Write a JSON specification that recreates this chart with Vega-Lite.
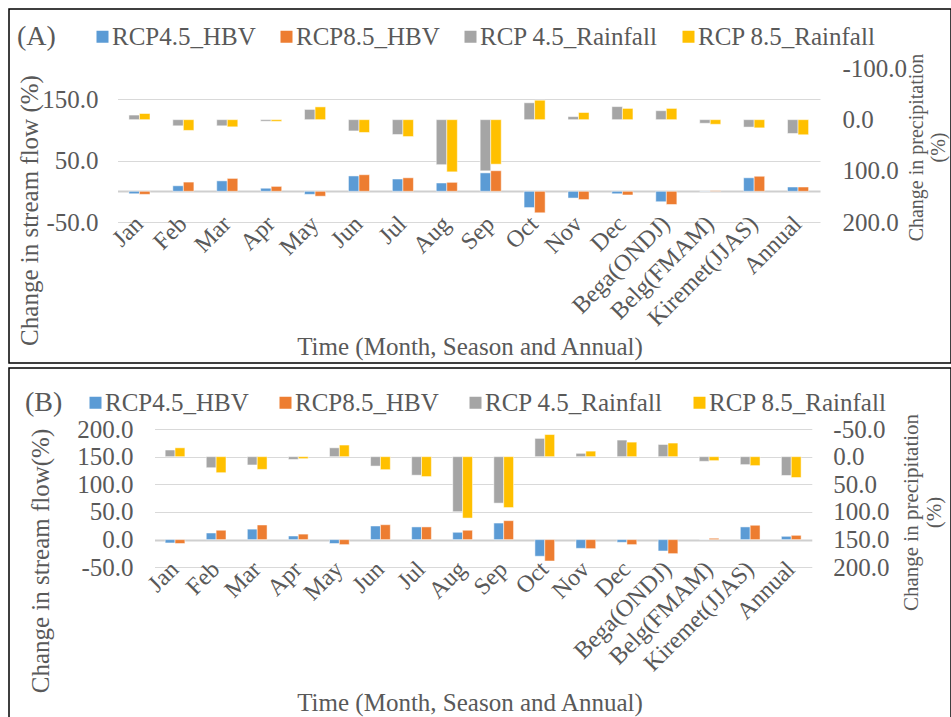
{
  "$schema": "https://vega.github.io/schema/vega-lite/v6.json",
  "padding": {"left": 8, "top": 8, "right": 0, "bottom": 0},
  "background": "white",
  "spacing": 3,
  "config": {
    "font": "Liberation Serif",
    "view": {"stroke": "#000000", "strokeWidth": 1.5},
    "axis": {"labelFont": "Liberation Serif", "titleFont": "Liberation Serif", "labelColor": "#595959", "titleColor": "#595959", "titleFontWeight": "normal", "domain": false, "ticks": false, "gridColor": "#d9d9d9", "labelOverlap": false, "labelLimit": 0, "titleLimit": 0},
    "legend": {"labelFont": "Liberation Serif", "titleFont": "Liberation Serif", "labelColor": "#595959", "titleColor": "#595959", "titleFontWeight": "normal", "labelLimit": 0, "titleLimit": 0, "padding": 0}
  },
  "resolve": {"scale": {"color": "independent", "xOffset": "independent"}},
  "vconcat": [
    {
      "width": 942,
      "height": 354,
      "data": {"values": [
        {"c": "Jan", "k": "HBV", "r": "4.5", "s": "RCP4.5_HBV", "v": -4},
        {"c": "Jan", "k": "HBV", "r": "8.5", "s": "RCP8.5_HBV", "v": -5},
        {"c": "Jan", "k": "Rain", "r": "4.5", "s": "RCP 4.5_Rainfall", "v": -9},
        {"c": "Jan", "k": "Rain", "r": "8.5", "s": "RCP 8.5_Rainfall", "v": -12},
        {"c": "Feb", "k": "HBV", "r": "4.5", "s": "RCP4.5_HBV", "v": 9},
        {"c": "Feb", "k": "HBV", "r": "8.5", "s": "RCP8.5_HBV", "v": 15},
        {"c": "Feb", "k": "Rain", "r": "4.5", "s": "RCP 4.5_Rainfall", "v": 12},
        {"c": "Feb", "k": "Rain", "r": "8.5", "s": "RCP 8.5_Rainfall", "v": 21},
        {"c": "Mar", "k": "HBV", "r": "4.5", "s": "RCP4.5_HBV", "v": 17},
        {"c": "Mar", "k": "HBV", "r": "8.5", "s": "RCP8.5_HBV", "v": 21},
        {"c": "Mar", "k": "Rain", "r": "4.5", "s": "RCP 4.5_Rainfall", "v": 12},
        {"c": "Mar", "k": "Rain", "r": "8.5", "s": "RCP 8.5_Rainfall", "v": 14},
        {"c": "Apr", "k": "HBV", "r": "4.5", "s": "RCP4.5_HBV", "v": 5},
        {"c": "Apr", "k": "HBV", "r": "8.5", "s": "RCP8.5_HBV", "v": 8},
        {"c": "Apr", "k": "Rain", "r": "4.5", "s": "RCP 4.5_Rainfall", "v": 3},
        {"c": "Apr", "k": "Rain", "r": "8.5", "s": "RCP 8.5_Rainfall", "v": 3.3},
        {"c": "May", "k": "HBV", "r": "4.5", "s": "RCP4.5_HBV", "v": -5},
        {"c": "May", "k": "HBV", "r": "8.5", "s": "RCP8.5_HBV", "v": -8},
        {"c": "May", "k": "Rain", "r": "4.5", "s": "RCP 4.5_Rainfall", "v": -20},
        {"c": "May", "k": "Rain", "r": "8.5", "s": "RCP 8.5_Rainfall", "v": -25},
        {"c": "Jun", "k": "HBV", "r": "4.5", "s": "RCP4.5_HBV", "v": 25},
        {"c": "Jun", "k": "HBV", "r": "8.5", "s": "RCP8.5_HBV", "v": 27},
        {"c": "Jun", "k": "Rain", "r": "4.5", "s": "RCP 4.5_Rainfall", "v": 22},
        {"c": "Jun", "k": "Rain", "r": "8.5", "s": "RCP 8.5_Rainfall", "v": 25},
        {"c": "Jul", "k": "HBV", "r": "4.5", "s": "RCP4.5_HBV", "v": 20},
        {"c": "Jul", "k": "HBV", "r": "8.5", "s": "RCP8.5_HBV", "v": 22},
        {"c": "Jul", "k": "Rain", "r": "4.5", "s": "RCP 4.5_Rainfall", "v": 29},
        {"c": "Jul", "k": "Rain", "r": "8.5", "s": "RCP 8.5_Rainfall", "v": 33},
        {"c": "Aug", "k": "HBV", "r": "4.5", "s": "RCP4.5_HBV", "v": 13.5},
        {"c": "Aug", "k": "HBV", "r": "8.5", "s": "RCP8.5_HBV", "v": 14.6},
        {"c": "Aug", "k": "Rain", "r": "4.5", "s": "RCP 4.5_Rainfall", "v": 88},
        {"c": "Aug", "k": "Rain", "r": "8.5", "s": "RCP 8.5_Rainfall", "v": 102},
        {"c": "Sep", "k": "HBV", "r": "4.5", "s": "RCP4.5_HBV", "v": 30},
        {"c": "Sep", "k": "HBV", "r": "8.5", "s": "RCP8.5_HBV", "v": 33.5},
        {"c": "Sep", "k": "Rain", "r": "4.5", "s": "RCP 4.5_Rainfall", "v": 100},
        {"c": "Sep", "k": "Rain", "r": "8.5", "s": "RCP 8.5_Rainfall", "v": 87},
        {"c": "Oct", "k": "HBV", "r": "4.5", "s": "RCP4.5_HBV", "v": -26.5},
        {"c": "Oct", "k": "HBV", "r": "8.5", "s": "RCP8.5_HBV", "v": -35},
        {"c": "Oct", "k": "Rain", "r": "4.5", "s": "RCP 4.5_Rainfall", "v": -33},
        {"c": "Oct", "k": "Rain", "r": "8.5", "s": "RCP 8.5_Rainfall", "v": -38},
        {"c": "Nov", "k": "HBV", "r": "4.5", "s": "RCP4.5_HBV", "v": -11},
        {"c": "Nov", "k": "HBV", "r": "8.5", "s": "RCP8.5_HBV", "v": -13.5},
        {"c": "Nov", "k": "Rain", "r": "4.5", "s": "RCP 4.5_Rainfall", "v": -6},
        {"c": "Nov", "k": "Rain", "r": "8.5", "s": "RCP 8.5_Rainfall", "v": -14},
        {"c": "Dec", "k": "HBV", "r": "4.5", "s": "RCP4.5_HBV", "v": -4},
        {"c": "Dec", "k": "HBV", "r": "8.5", "s": "RCP8.5_HBV", "v": -6},
        {"c": "Dec", "k": "Rain", "r": "4.5", "s": "RCP 4.5_Rainfall", "v": -25.5},
        {"c": "Dec", "k": "Rain", "r": "8.5", "s": "RCP 8.5_Rainfall", "v": -22},
        {"c": "Bega(ONDJ)", "k": "HBV", "r": "4.5", "s": "RCP4.5_HBV", "v": -17},
        {"c": "Bega(ONDJ)", "k": "HBV", "r": "8.5", "s": "RCP8.5_HBV", "v": -21.5},
        {"c": "Bega(ONDJ)", "k": "Rain", "r": "4.5", "s": "RCP 4.5_Rainfall", "v": -17.5},
        {"c": "Bega(ONDJ)", "k": "Rain", "r": "8.5", "s": "RCP 8.5_Rainfall", "v": -22},
        {"c": "Belg(FMAM)", "k": "HBV", "r": "4.5", "s": "RCP4.5_HBV", "v": 0.3},
        {"c": "Belg(FMAM)", "k": "HBV", "r": "8.5", "s": "RCP8.5_HBV", "v": 1},
        {"c": "Belg(FMAM)", "k": "Rain", "r": "4.5", "s": "RCP 4.5_Rainfall", "v": 7},
        {"c": "Belg(FMAM)", "k": "Rain", "r": "8.5", "s": "RCP 8.5_Rainfall", "v": 9},
        {"c": "Kiremet(JJAS)", "k": "HBV", "r": "4.5", "s": "RCP4.5_HBV", "v": 22},
        {"c": "Kiremet(JJAS)", "k": "HBV", "r": "8.5", "s": "RCP8.5_HBV", "v": 24.5},
        {"c": "Kiremet(JJAS)", "k": "Rain", "r": "4.5", "s": "RCP 4.5_Rainfall", "v": 14.5},
        {"c": "Kiremet(JJAS)", "k": "Rain", "r": "8.5", "s": "RCP 8.5_Rainfall", "v": 16},
        {"c": "Annual", "k": "HBV", "r": "4.5", "s": "RCP4.5_HBV", "v": 7},
        {"c": "Annual", "k": "HBV", "r": "8.5", "s": "RCP8.5_HBV", "v": 7},
        {"c": "Annual", "k": "Rain", "r": "4.5", "s": "RCP 4.5_Rainfall", "v": 27},
        {"c": "Annual", "k": "Rain", "r": "8.5", "s": "RCP 8.5_Rainfall", "v": 29.5}
      ]},
      "encoding": {
        "x": {"field": "c", "type": "nominal",
          "scale": {"domain": ["Jan", "Feb", "Mar", "Apr", "May", "Jun", "Jul", "Aug", "Sep", "Oct", "Nov", "Dec", "Bega(ONDJ)", "Belg(FMAM)", "Kiremet(JJAS)", "Annual"], "range": [108.5, 811], "paddingInner": 0.52, "paddingOuter": 0.26},
          "axis": {"orient": "bottom", "offset": -141, "grid": false, "labelAngle": -45, "labelAlign": "right", "labelBaseline": "middle", "labelPadding": -2, "labelFontSize": 24, "labelFont": "Liberation Serif", "title": "Time (Month, Season and Annual)", "titleFont": "Liberation Serif", "titleFontSize": 25, "titleX": 460.5, "titleY": 132.5, "titleBaseline": "alphabetic", "titleAlign": "center"}},
        "xOffset": {"field": "r", "type": "nominal", "scale": {"paddingInner": 0, "paddingOuter": 0}},
        "color": {"field": "s", "type": "nominal",
          "scale": {"domain": ["RCP4.5_HBV", "RCP8.5_HBV", "RCP 4.5_Rainfall", "RCP 8.5_Rainfall"], "range": ["#5B9BD5", "#ED7D31", "#A5A5A5", "#FFC000"]},
          "legend": {"orient": "none", "legendX": 8, "legendY": 15, "direction": "horizontal", "title": "(A)", "titleOrient": "left", "titleFont": "Liberation Serif", "titleFontSize": 28, "titlePadding": 34, "symbolType": "square", "symbolSize": 144, "symbolStrokeWidth": 0, "labelFont": "Liberation Serif", "labelFontSize": 25, "labelOffset": -3, "columnPadding": 18}}
      },
      "layer": [
        {
          "transform": [{"filter": "datum.k == 'HBV'"}],
          "mark": {"type": "bar", "stroke": "#ffffff", "strokeWidth": 0.5},
          "encoding": {
            "y": {"field": "v", "type": "quantitative",
              "scale": {"domain": [-50, 200], "range": [213, 59.5], "nice": false, "zero": false},
              "axis": {"orient": "left", "offset": -108.5, "values": [-50, 0, 50, 150], "labelExpr": "datum.value == 0 ? '' : replace(format(datum.value, '.1f'), '\u2212', '-')", "labelPadding": 19.5, "labelFont": "Liberation Serif", "labelFontSize": 25, "grid": true, "gridColor": {"condition": {"test": "datum.value == 0", "value": "#cfcfcf"}, "value": "#d9d9d9"}, "gridWidth": {"condition": {"test": "datum.value == 0", "value": 2}, "value": 1}, "title": "Change in stream flow (%)", "titleFont": "Liberation Serif", "titleFontSize": 25, "titleAngle": 270, "titleBaseline": "bottom", "titleAlign": "center", "titleX": -75.5, "titleY": 201}}
          }
        },
        {
          "transform": [{"filter": "datum.k == 'Rain'"}],
          "mark": {"type": "bar", "stroke": "#ffffff", "strokeWidth": 0.5},
          "encoding": {
            "y": {"field": "v", "type": "quantitative",
              "scale": {"domain": [-100, 200], "range": [59.5, 213], "nice": false, "zero": false},
              "axis": {"orient": "right", "offset": -131, "values": [-100, 0, 100, 200], "labelExpr": "replace(format(datum.value, '.1f'), '\u2212', '-')", "labelPadding": 22, "labelAlign": "left", "labelFont": "Liberation Serif", "labelFontSize": 25, "grid": false, "title": ["Change in precipitation", "(%)\u00a0\u00a0\u00a0\u00a0\u00a0\u00a0\u00a0"], "titleFont": "Liberation Serif", "titleFontSize": 20, "titleAngle": 270, "titleBaseline": "top", "titleAlign": "center", "titleX": 86.4, "titleY": 138}}
          }
        }
      ],
      "resolve": {"scale": {"y": "independent"}, "axis": {"y": "independent"}}
    },
    {
      "width": 942,
      "height": 352,
      "data": {"values": [
        {"c": "Jan", "k": "HBV", "r": "4.5", "s": "RCP4.5_HBV", "v": -6},
        {"c": "Jan", "k": "HBV", "r": "8.5", "s": "RCP8.5_HBV", "v": -7},
        {"c": "Jan", "k": "Rain", "r": "4.5", "s": "RCP 4.5_Rainfall", "v": -12},
        {"c": "Jan", "k": "Rain", "r": "8.5", "s": "RCP 8.5_Rainfall", "v": -16},
        {"c": "Feb", "k": "HBV", "r": "4.5", "s": "RCP4.5_HBV", "v": 12},
        {"c": "Feb", "k": "HBV", "r": "8.5", "s": "RCP8.5_HBV", "v": 17},
        {"c": "Feb", "k": "Rain", "r": "4.5", "s": "RCP 4.5_Rainfall", "v": 20},
        {"c": "Feb", "k": "Rain", "r": "8.5", "s": "RCP 8.5_Rainfall", "v": 29},
        {"c": "Mar", "k": "HBV", "r": "4.5", "s": "RCP4.5_HBV", "v": 19},
        {"c": "Mar", "k": "HBV", "r": "8.5", "s": "RCP8.5_HBV", "v": 26.5},
        {"c": "Mar", "k": "Rain", "r": "4.5", "s": "RCP 4.5_Rainfall", "v": 15},
        {"c": "Mar", "k": "Rain", "r": "8.5", "s": "RCP 8.5_Rainfall", "v": 23},
        {"c": "Apr", "k": "HBV", "r": "4.5", "s": "RCP4.5_HBV", "v": 6.6},
        {"c": "Apr", "k": "HBV", "r": "8.5", "s": "RCP8.5_HBV", "v": 10},
        {"c": "Apr", "k": "Rain", "r": "4.5", "s": "RCP 4.5_Rainfall", "v": 5},
        {"c": "Apr", "k": "Rain", "r": "8.5", "s": "RCP 8.5_Rainfall", "v": 3.6},
        {"c": "May", "k": "HBV", "r": "4.5", "s": "RCP4.5_HBV", "v": -7},
        {"c": "May", "k": "HBV", "r": "8.5", "s": "RCP8.5_HBV", "v": -9},
        {"c": "May", "k": "Rain", "r": "4.5", "s": "RCP 4.5_Rainfall", "v": -16},
        {"c": "May", "k": "Rain", "r": "8.5", "s": "RCP 8.5_Rainfall", "v": -21},
        {"c": "Jun", "k": "HBV", "r": "4.5", "s": "RCP4.5_HBV", "v": 24.7},
        {"c": "Jun", "k": "HBV", "r": "8.5", "s": "RCP8.5_HBV", "v": 27},
        {"c": "Jun", "k": "Rain", "r": "4.5", "s": "RCP 4.5_Rainfall", "v": 17},
        {"c": "Jun", "k": "Rain", "r": "8.5", "s": "RCP 8.5_Rainfall", "v": 23.5},
        {"c": "Jul", "k": "HBV", "r": "4.5", "s": "RCP4.5_HBV", "v": 23},
        {"c": "Jul", "k": "HBV", "r": "8.5", "s": "RCP8.5_HBV", "v": 23},
        {"c": "Jul", "k": "Rain", "r": "4.5", "s": "RCP 4.5_Rainfall", "v": 33.5},
        {"c": "Jul", "k": "Rain", "r": "8.5", "s": "RCP 8.5_Rainfall", "v": 36},
        {"c": "Aug", "k": "HBV", "r": "4.5", "s": "RCP4.5_HBV", "v": 13.3},
        {"c": "Aug", "k": "HBV", "r": "8.5", "s": "RCP8.5_HBV", "v": 17},
        {"c": "Aug", "k": "Rain", "r": "4.5", "s": "RCP 4.5_Rainfall", "v": 99.5},
        {"c": "Aug", "k": "Rain", "r": "8.5", "s": "RCP 8.5_Rainfall", "v": 111},
        {"c": "Sep", "k": "HBV", "r": "4.5", "s": "RCP4.5_HBV", "v": 30},
        {"c": "Sep", "k": "HBV", "r": "8.5", "s": "RCP8.5_HBV", "v": 34.3},
        {"c": "Sep", "k": "Rain", "r": "4.5", "s": "RCP 4.5_Rainfall", "v": 84},
        {"c": "Sep", "k": "Rain", "r": "8.5", "s": "RCP 8.5_Rainfall", "v": 92},
        {"c": "Oct", "k": "HBV", "r": "4.5", "s": "RCP4.5_HBV", "v": -30},
        {"c": "Oct", "k": "HBV", "r": "8.5", "s": "RCP8.5_HBV", "v": -38.6},
        {"c": "Oct", "k": "Rain", "r": "4.5", "s": "RCP 4.5_Rainfall", "v": -33},
        {"c": "Oct", "k": "Rain", "r": "8.5", "s": "RCP 8.5_Rainfall", "v": -40},
        {"c": "Nov", "k": "HBV", "r": "4.5", "s": "RCP4.5_HBV", "v": -15.7},
        {"c": "Nov", "k": "HBV", "r": "8.5", "s": "RCP8.5_HBV", "v": -16.3},
        {"c": "Nov", "k": "Rain", "r": "4.5", "s": "RCP 4.5_Rainfall", "v": -6},
        {"c": "Nov", "k": "Rain", "r": "8.5", "s": "RCP 8.5_Rainfall", "v": -10},
        {"c": "Dec", "k": "HBV", "r": "4.5", "s": "RCP4.5_HBV", "v": -4.8},
        {"c": "Dec", "k": "HBV", "r": "8.5", "s": "RCP8.5_HBV", "v": -9},
        {"c": "Dec", "k": "Rain", "r": "4.5", "s": "RCP 4.5_Rainfall", "v": -30},
        {"c": "Dec", "k": "Rain", "r": "8.5", "s": "RCP 8.5_Rainfall", "v": -26.3},
        {"c": "Bega(ONDJ)", "k": "HBV", "r": "4.5", "s": "RCP4.5_HBV", "v": -20.5},
        {"c": "Bega(ONDJ)", "k": "HBV", "r": "8.5", "s": "RCP8.5_HBV", "v": -25.3},
        {"c": "Bega(ONDJ)", "k": "Rain", "r": "4.5", "s": "RCP 4.5_Rainfall", "v": -22},
        {"c": "Bega(ONDJ)", "k": "Rain", "r": "8.5", "s": "RCP 8.5_Rainfall", "v": -24.6},
        {"c": "Belg(FMAM)", "k": "HBV", "r": "4.5", "s": "RCP4.5_HBV", "v": 0.3},
        {"c": "Belg(FMAM)", "k": "HBV", "r": "8.5", "s": "RCP8.5_HBV", "v": 2.5},
        {"c": "Belg(FMAM)", "k": "Rain", "r": "4.5", "s": "RCP 4.5_Rainfall", "v": 8.4},
        {"c": "Belg(FMAM)", "k": "Rain", "r": "8.5", "s": "RCP 8.5_Rainfall", "v": 7.2},
        {"c": "Kiremet(JJAS)", "k": "HBV", "r": "4.5", "s": "RCP4.5_HBV", "v": 23},
        {"c": "Kiremet(JJAS)", "k": "HBV", "r": "8.5", "s": "RCP8.5_HBV", "v": 26},
        {"c": "Kiremet(JJAS)", "k": "Rain", "r": "4.5", "s": "RCP 4.5_Rainfall", "v": 14.4},
        {"c": "Kiremet(JJAS)", "k": "Rain", "r": "8.5", "s": "RCP 8.5_Rainfall", "v": 16.2},
        {"c": "Annual", "k": "HBV", "r": "4.5", "s": "RCP4.5_HBV", "v": 6},
        {"c": "Annual", "k": "HBV", "r": "8.5", "s": "RCP8.5_HBV", "v": 7.8},
        {"c": "Annual", "k": "Rain", "r": "4.5", "s": "RCP 4.5_Rainfall", "v": 34},
        {"c": "Annual", "k": "Rain", "r": "8.5", "s": "RCP 8.5_Rainfall", "v": 37.7}
      ]},
      "encoding": {
        "x": {"field": "c", "type": "nominal",
          "scale": {"domain": ["Jan", "Feb", "Mar", "Apr", "May", "Jun", "Jul", "Aug", "Sep", "Oct", "Nov", "Dec", "Bega(ONDJ)", "Belg(FMAM)", "Kiremet(JJAS)", "Annual"], "range": [145.5, 802.8], "paddingInner": 0.52, "paddingOuter": 0.26},
          "axis": {"orient": "bottom", "offset": -152.7, "grid": false, "labelAngle": -45, "labelAlign": "right", "labelBaseline": "middle", "labelPadding": -2, "labelFontSize": 24, "labelFont": "Liberation Serif", "title": "Time (Month, Season and Annual)", "titleFont": "Liberation Serif", "titleFontSize": 25, "titleX": 460.5, "titleY": 143.5, "titleBaseline": "alphabetic", "titleAlign": "center"}},
        "xOffset": {"field": "r", "type": "nominal", "scale": {"paddingInner": 0, "paddingOuter": 0}},
        "color": {"field": "s", "type": "nominal",
          "scale": {"domain": ["RCP4.5_HBV", "RCP8.5_HBV", "RCP 4.5_Rainfall", "RCP 8.5_Rainfall"], "range": ["#5B9BD5", "#ED7D31", "#A5A5A5", "#FFC000"]},
          "legend": {"orient": "none", "legendX": 16, "legendY": 22, "direction": "horizontal", "title": "(B)", "titleOrient": "left", "titleFont": "Liberation Serif", "titleFontSize": 28, "titlePadding": 20, "symbolType": "square", "symbolSize": 144, "symbolStrokeWidth": 0, "labelFont": "Liberation Serif", "labelFontSize": 25, "labelOffset": -3, "columnPadding": 24}}
      },
      "layer": [
        {
          "transform": [{"filter": "datum.k == 'HBV'"}],
          "mark": {"type": "bar", "stroke": "#ffffff", "strokeWidth": 0.5},
          "encoding": {
            "y": {"field": "v", "type": "quantitative",
              "scale": {"domain": [-50, 200], "range": [199.3, 61], "nice": false, "zero": false},
              "axis": {"orient": "left", "offset": -145.5, "values": [-50, 0, 50, 100, 150, 200], "labelExpr": "replace(format(datum.value, '.1f'), '\u2212', '-')", "labelPadding": 21.5, "labelFont": "Liberation Serif", "labelFontSize": 25, "grid": true, "gridColor": {"condition": {"test": "datum.value == 0", "value": "#cfcfcf"}, "value": "#d9d9d9"}, "gridWidth": {"condition": {"test": "datum.value == 0", "value": 2}, "value": 1}, "title": "Change in stream flow(%)", "titleFont": "Liberation Serif", "titleFontSize": 25, "titleAngle": 270, "titleBaseline": "bottom", "titleAlign": "center", "titleX": -101.5, "titleY": 192.5}}
          }
        },
        {
          "transform": [{"filter": "datum.k == 'Rain'"}],
          "mark": {"type": "bar", "stroke": "#ffffff", "strokeWidth": 0.5},
          "encoding": {
            "y": {"field": "v", "type": "quantitative",
              "scale": {"domain": [-50, 200], "range": [61, 199.3], "nice": false, "zero": false},
              "axis": {"orient": "right", "offset": -139.2, "values": [-50, 0, 50, 100, 150, 200], "labelExpr": "replace(format(datum.value, '.1f'), '\u2212', '-')", "labelPadding": 21, "labelAlign": "left", "labelFont": "Liberation Serif", "labelFontSize": 25, "grid": false, "title": ["Change in precipitation", "(%)\u00a0\u00a0\u00a0\u00a0\u00a0\u00a0"], "titleFont": "Liberation Serif", "titleFontSize": 21, "titleAngle": 270, "titleBaseline": "top", "titleAlign": "center", "titleX": 88.6, "titleY": 144}}
          }
        }
      ],
      "resolve": {"scale": {"y": "independent"}, "axis": {"y": "independent"}}
    }
  ]
}
